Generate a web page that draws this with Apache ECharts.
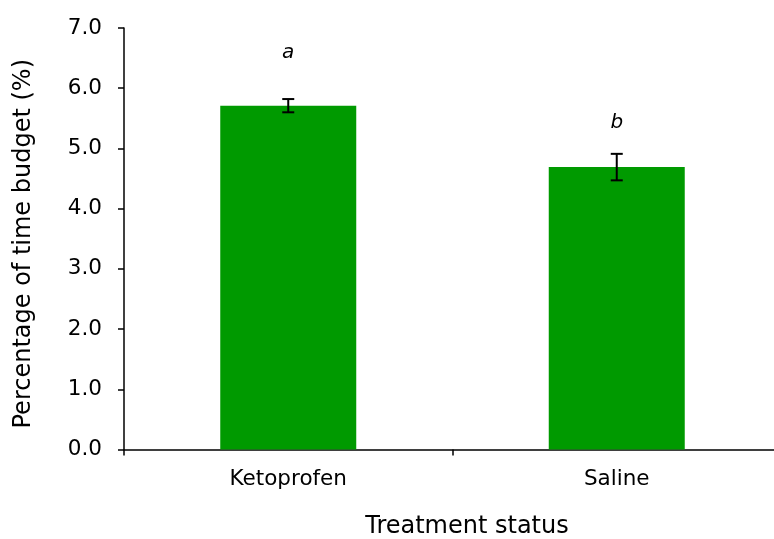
<!DOCTYPE html>
<html>
<head>
<meta charset="utf-8">
<script src="https://cdn.jsdelivr.net/npm/echarts@6/dist/echarts.min.js"></script>
<style>
  html, body { margin: 0; padding: 0; background: #ffffff; }
  #chart { width: 774px; height: 539px; }
</style>
</head>
<body>
<div id="chart"></div>
<script>
// Treatment groups and mean share of the time budget (%)
const categories = ['Ketoprofen', 'Saline'];
const means = [5.71, 4.69];
const errors = [0.11, 0.22];
// Significance letters and the heights at which they are placed
const letters = ['a', 'b'];
const letterHeights = [6.59, 5.42];
const yTicks = [0, 1, 2, 3, 4, 5, 6, 7];

const FONT = 'DejaVu Sans';
const chart = echarts.init(document.getElementById('chart'), null, { renderer: 'canvas' });

const errorData = categories.map((c, i) => [i, means[i] - errors[i], means[i] + errors[i]]);
const letterData = categories.map((c, i) => [i, letterHeights[i]]);

chart.setOption({
  animation: false,
  backgroundColor: '#ffffff',
  grid: { left: 124, top: 28, width: 657, bottom: 89.5, containLabel: false, outerBoundsMode: 'none' },
  xAxis: {
    type: 'category',
    data: categories,
    name: 'Treatment status',
    nameLocation: 'middle',
    nameGap: 65.5,
    nameTextStyle: { fontFamily: FONT, fontSize: 24, color: '#000', padding: [0, 0, 0, 29] },
    axisLine: { lineStyle: { color: '#000', width: 1.5 } },
    axisTick: { show: true, alignWithLabel: false, length: 6, lineStyle: { color: '#000', width: 1.5 } },
    axisLabel: { fontFamily: FONT, fontSize: 21.5, color: '#000', margin: 19 }
  },
  yAxis: {
    type: 'value',
    min: yTicks[0],
    max: yTicks[yTicks.length - 1],
    interval: 1,
    name: 'Percentage of time budget (%)',
    nameLocation: 'middle',
    nameGap: 88,
    nameTextStyle: { fontFamily: FONT, fontSize: 24, color: '#000', padding: [0, 10, 0, 0] },
    axisLine: { show: true, lineStyle: { color: '#000', width: 1.5 } },
    axisTick: { show: true, length: 6, lineStyle: { color: '#000', width: 1.5 } },
    axisLabel: { fontFamily: FONT, fontSize: 21.5, color: '#000', margin: 22, formatter: v => v.toFixed(1) },
    splitLine: { show: false }
  },
  series: [
    {
      type: 'bar',
      data: means,
      barWidth: '41.4%',
      itemStyle: { color: '#009a00' },
      z: 2
    },
    {
      type: 'custom',
      data: errorData,
      z: 5,
      renderItem: function (params, api) {
        const x = api.coord([api.value(0), 0])[0];
        const lo = api.coord([api.value(0), api.value(1)])[1];
        const hi = api.coord([api.value(0), api.value(2)])[1];
        const half = 6;
        const style = { stroke: '#000', lineWidth: 2 };
        return {
          type: 'group',
          children: [
            { type: 'line', shape: { x1: x, y1: hi, x2: x, y2: lo }, style },
            { type: 'line', shape: { x1: x - half, y1: hi, x2: x + half, y2: hi }, style },
            { type: 'line', shape: { x1: x - half, y1: lo, x2: x + half, y2: lo }, style }
          ]
        };
      }
    },
    {
      type: 'custom',
      data: letterData,
      z: 6,
      silent: true,
      renderItem: function (params, api) {
        const p = api.coord([api.value(0), api.value(1)]);
        return {
          type: 'text',
          x: p[0],
          y: p[1],
          style: {
            text: letters[params.dataIndex],
            fill: '#000',
            font: 'italic 20px "' + FONT + '"',
            align: 'center',
            verticalAlign: 'middle'
          }
        };
      }
    }
  ]
});
</script>
</body>
</html>
